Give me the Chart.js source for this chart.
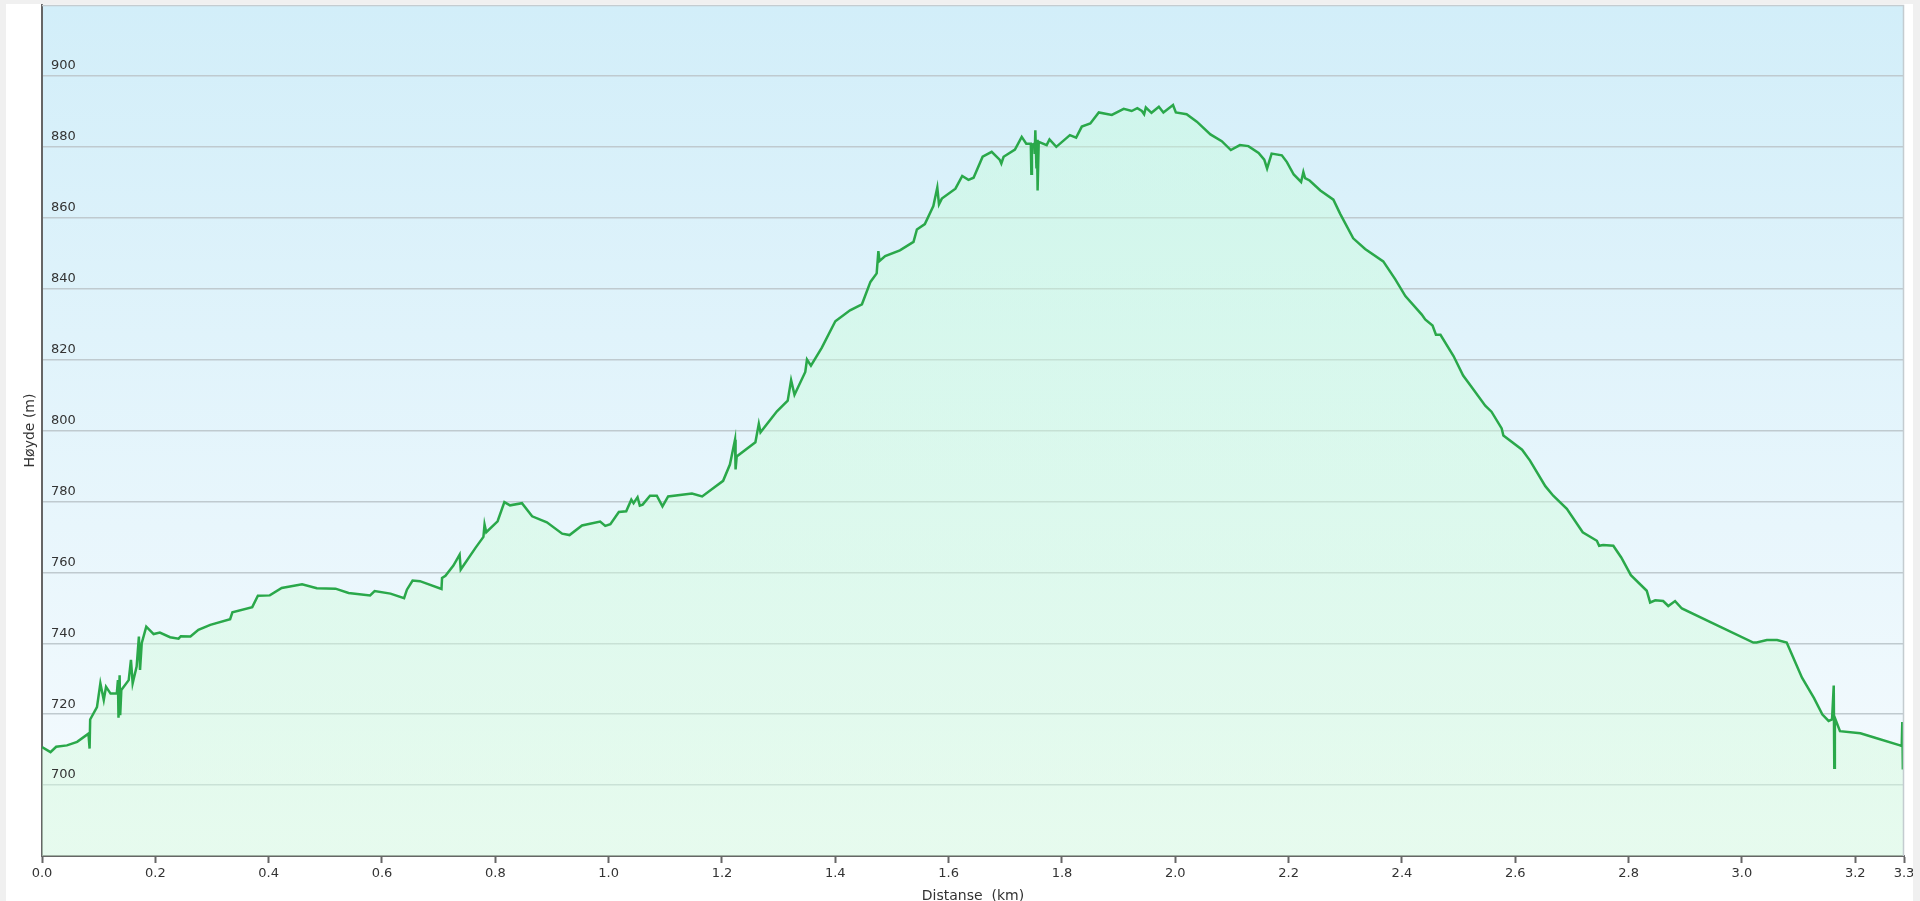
<!DOCTYPE html>
<html>
<head>
<meta charset="utf-8">
<script src="https://cdn.jsdelivr.net/npm/chart.js@4"></script>
<style>
  html, body { margin: 0; padding: 0; background: #f0f0f0; overflow: hidden; }
  #panel { position: absolute; left: 6px; top: 4px; width: 1907px; height: 916px; background: #fff; }
  canvas { display: block; }
</style>
</head>
<body>
<div id="panel"><canvas id="profile" width="1907" height="916"></canvas></div>
<script>
// ============================
// DATA
// ============================
const distanceKm = [
  0.000, 0.015, 0.025, 0.044, 0.062, 0.082, 0.084, 0.085, 0.097, 0.103,
  0.109, 0.113, 0.121, 0.132, 0.134, 0.135, 0.137, 0.138, 0.140, 0.153,
  0.157, 0.160, 0.167, 0.171, 0.173, 0.176, 0.184, 0.197, 0.208, 0.226,
  0.241, 0.245, 0.262, 0.276, 0.297, 0.332, 0.336, 0.371, 0.381, 0.402,
  0.423, 0.459, 0.485, 0.518, 0.541, 0.579, 0.587, 0.615, 0.639, 0.644,
  0.654, 0.667, 0.705, 0.706, 0.712, 0.726, 0.737, 0.739, 0.765, 0.779,
  0.781, 0.784, 0.804, 0.816, 0.826, 0.847, 0.865, 0.891, 0.918, 0.931,
  0.953, 0.985, 0.994, 1.003, 1.018, 1.031, 1.040, 1.044, 1.051, 1.055,
  1.060, 1.073, 1.085, 1.095, 1.105, 1.147, 1.165, 1.185, 1.202, 1.214,
  1.223, 1.224, 1.226, 1.259, 1.265, 1.268, 1.297, 1.316, 1.322, 1.328,
  1.347, 1.350, 1.357, 1.376, 1.400, 1.426, 1.447, 1.462, 1.473, 1.476,
  1.478, 1.488, 1.514, 1.538, 1.544, 1.558, 1.573, 1.580, 1.583, 1.588,
  1.612, 1.624, 1.635, 1.644, 1.660, 1.676, 1.690, 1.693, 1.697, 1.717,
  1.729, 1.737, 1.745, 1.746, 1.747, 1.751, 1.752, 1.753, 1.755, 1.756,
  1.757, 1.759, 1.773, 1.778, 1.790, 1.814, 1.825, 1.835, 1.850, 1.865,
  1.888, 1.909, 1.923, 1.933, 1.941, 1.945, 1.948, 1.958, 1.971, 1.979,
  1.996, 2.001, 2.020, 2.038, 2.062, 2.082, 2.098, 2.114, 2.129, 2.147,
  2.157, 2.162, 2.170, 2.188, 2.197, 2.209, 2.222, 2.226, 2.229, 2.237,
  2.256, 2.279, 2.291, 2.314, 2.335, 2.367, 2.388, 2.406, 2.435, 2.441,
  2.454, 2.460, 2.468, 2.491, 2.508, 2.520, 2.547, 2.558, 2.576, 2.579,
  2.612, 2.626, 2.653, 2.667, 2.691, 2.719, 2.744, 2.748, 2.755, 2.773,
  2.787, 2.804, 2.832, 2.838, 2.847, 2.861, 2.870, 2.882, 2.894, 2.950,
  3.020, 3.026, 3.044, 3.062, 3.079, 3.097, 3.106, 3.127, 3.142, 3.153,
  3.159, 3.162, 3.163, 3.164, 3.173, 3.209, 3.232, 3.279, 3.282, 3.283,
  3.284, 3.286
];

const elevationM = [
  710.7, 709.3, 710.8, 711.2, 712.2, 714.5, 710.3, 718.5, 722.0, 728.7,
  724.0, 727.7, 725.8, 725.8, 729.6, 719.0, 731.0, 719.7, 726.8, 729.6,
  735.3, 728.7, 733.4, 741.9, 732.5, 740.0, 744.7, 742.6, 743.0, 741.7,
  741.3, 742.0, 741.9, 743.8, 745.2, 746.8, 748.7, 750.2, 753.4, 753.5,
  755.6, 756.6, 755.5, 755.4, 754.2, 753.5, 754.7, 754.0, 752.7, 755.1,
  757.7, 757.5, 755.3, 758.4, 759.0, 761.9, 765.0, 760.8, 766.9, 770.0,
  773.5, 771.3, 774.4, 779.8, 778.9, 779.5, 775.8, 774.1, 770.9, 770.5,
  773.2, 774.3, 773.1, 773.6, 777.0, 777.2, 780.5, 779.5, 781.2, 778.8,
  779.1, 781.6, 781.6, 778.6, 781.4, 782.2, 781.4, 783.8, 785.8, 790.4,
  797.4, 789.0, 792.7, 796.7, 801.9, 799.5, 805.4, 808.4, 814.2, 810.1,
  816.5, 820.0, 818.3, 823.3, 830.8, 833.9, 835.6, 841.9, 844.3, 850.6,
  847.8, 849.2, 850.8, 853.2, 856.7, 858.2, 863.3, 868.5, 863.8, 865.4,
  868.2, 871.8, 870.7, 871.3, 877.2, 878.6, 876.4, 875.3, 877.2, 879.2,
  882.8, 880.9, 880.9, 872.4, 880.6, 880.9, 878.0, 884.7, 873.9, 882.0,
  867.7, 881.4, 880.5, 882.1, 880.0, 883.3, 882.6, 885.7, 886.6, 889.7,
  889.0, 890.7, 890.1, 890.9, 890.1, 889.2, 891.1, 889.6, 891.3, 889.7,
  891.8, 889.7, 889.2, 887.1, 883.5, 881.6, 879.1, 880.5, 880.2, 878.3,
  876.4, 873.9, 878.1, 877.6, 875.7, 872.2, 870.1, 872.9, 871.2, 870.5,
  867.7, 865.1, 861.1, 854.2, 851.2, 847.7, 842.7, 837.9, 832.7, 831.3,
  829.6, 827.0, 827.0, 821.0, 815.5, 812.9, 807.0, 805.3, 800.6, 798.6,
  794.6, 791.5, 784.3, 781.6, 777.9, 771.3, 768.9, 767.5, 767.7, 767.5,
  764.2, 759.2, 754.8, 751.5, 752.1, 751.9, 750.5, 751.9, 749.8, 745.5,
  740.2, 740.2, 740.9, 740.9, 740.2, 733.6, 730.3, 724.6, 719.9, 718.1,
  718.5, 728.1, 704.9, 719.0, 715.2, 714.6, 713.5, 711.2, 711.0, 717.8,
  704.4, 710.5
];

const xTicks = [0.0, 0.2, 0.4, 0.6, 0.8, 1.0, 1.2, 1.4, 1.6, 1.8, 2.0, 2.2, 2.4, 2.6, 2.8, 3.0, 3.2, 3.286];
const yTicks = [700, 720, 740, 760, 780, 800, 820, 840, 860, 880, 900];

// ============================
// PLOT BACKGROUND + FRAME
// ============================
const plotFrame = {
  id: "plotFrame",
  beforeDraw(chart) {
    const { ctx, chartArea: a } = chart;
    const g = ctx.createLinearGradient(0, a.top, 0, a.bottom);
    g.addColorStop(0, "#d2eef9");
    g.addColorStop(1, "#f6fbfe");
    ctx.save();
    ctx.fillStyle = g;
    ctx.fillRect(a.left, a.top, a.right - a.left, a.bottom - a.top);
    ctx.restore();
  },
  afterDraw(chart) {
    const { ctx, chartArea: a } = chart;
    ctx.save();
    ctx.strokeStyle = "#c4ccd0";
    ctx.lineWidth = 1.5;
    ctx.beginPath();
    ctx.moveTo(a.left, a.top + 0.5);
    ctx.lineTo(a.right - 0.5, a.top + 0.5);
    ctx.lineTo(a.right - 0.5, a.bottom);
    ctx.stroke();
    ctx.restore();
  }
};

function areaFill(context) {
  const a = context.chart.chartArea;
  if (!a) return "rgba(200,250,215,0.4)";
  const g = context.chart.ctx.createLinearGradient(0, a.top, 0, a.bottom);
  g.addColorStop(0, "rgba(195,255,215,0.38)");
  g.addColorStop(1, "rgba(215,250,222,0.5)");
  return g;
}

// scales keep their fixed sizes, no extra padding for labels
function noPad(s) {
  s.paddingTop = 0;
  s.paddingBottom = 0;
  s.paddingLeft = 0;
  s.paddingRight = 0;
}

// ============================
// CHART
// ============================
Chart.defaults.font.family = '"DejaVu Sans", Verdana, sans-serif';
Chart.defaults.font.size = 13;
Chart.defaults.color = "#333";

new Chart(document.getElementById("profile"), {
  type: "line",
  data: {
    datasets: [{
      data: distanceKm.map((d, i) => ({ x: d, y: elevationM[i] })),
      borderColor: "#2aa84a",
      borderWidth: 2.5,
      backgroundColor: areaFill,
      fill: "start",
      pointRadius: 0,
      tension: 0
    }]
  },
  options: {
    responsive: false,
    animation: false,
    layout: { autoPadding: false, padding: { top: 1, right: 9, left: 0, bottom: 0 } },
    plugins: { legend: { display: false }, tooltip: { enabled: false } },
    scales: {
      x: {
        type: "linear",
        min: 0,
        max: 3.286,
        afterBuildTicks: s => { s.ticks = xTicks.map(v => ({ value: v })); },
        afterFit: s => { s.height = 64; noPad(s); },
        ticks: { padding: 3, callback: v => v.toFixed(1), maxRotation: 0, autoSkip: false },
        grid: { drawOnChartArea: false, drawTicks: true, tickLength: 7, tickWidth: 2, tickColor: "#666" },
        border: { color: "#666", width: 2 },
        title: { display: true, text: "Distanse  (km)", font: { size: 14 }, padding: { top: 0, bottom: 15 } }
      },
      y: {
        position: "left",
        min: 680,
        max: 920,
        afterBuildTicks: s => { s.ticks = yTicks.map(v => ({ value: v })); },
        afterFit: s => { s.width = 36; noPad(s); },
        ticks: { mirror: true, z: 1, padding: 9, labelOffset: -10, callback: v => String(v) },
        grid: { drawTicks: false, color: "#bfcacf", lineWidth: 1.5 },
        border: { color: "#666", width: 2 },
        title: { display: true, text: "Høyde (m)", font: { size: 14 }, padding: { top: 16, bottom: 0 } }
      }
    }
  },
  plugins: [plotFrame]
});
</script>
</body>
</html>
